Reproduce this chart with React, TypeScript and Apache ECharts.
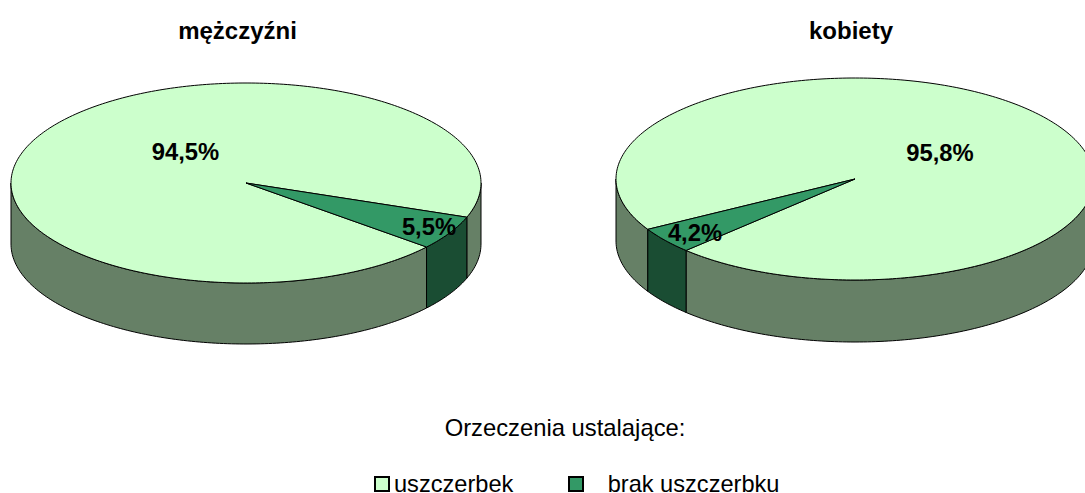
import React, { useEffect, useRef } from "react";
import * as echarts from "echarts";

const categories = ["uszczerbek", "brak uszczerbku"];
const menValues = [94.5, 5.5];
const womenValues = [95.8, 4.2];
const pieTitles = ["mężczyźni", "kobiety"];
const legendTitle = "Orzeczenia ustalające:";

const FONT = '"Liberation Sans", Arial, sans-serif';
const TOP_COLORS = ["#CCFFCC", "#339966"];
const WALL_COLORS = ["#668066", "#1A4D33"];

type Pie = {
  name: string;
  values: number[];
  cx: number;
  cy: number;
  rx: number;
  ry: number;
  depth: number;
  startDeg: number;
  labels: number[][];
};

const pies: Pie[] = [
  { name: pieTitles[0], values: menValues, cx: 246, cy: 183, rx: 235, ry: 100, depth: 61, startDeg: 39.8, labels: [[185.5, 151], [429, 226]] },
  { name: pieTitles[1], values: womenValues, cx: 855, cy: 179, rx: 239, ry: 101, depth: 62, startDeg: 150.1, labels: [[940, 152], [695, 232]] },
];

const arcPoints = (p: Pie, from: number, to: number, dy = 0) => {
  const pts: number[][] = [];
  const n = Math.max(2, Math.ceil(Math.abs(to - from)));
  for (let i = 0; i <= n; i++) {
    const a = ((from + ((to - from) * i) / n) * Math.PI) / 180;
    pts.push([p.cx + p.rx * Math.cos(a), p.cy + p.ry * Math.sin(a) + dy]);
  }
  return pts;
};

const renderSlice = (pie: Pie) => (_params: any, api: any) => {
  const idx = api.value(0) as number;
  const total = pie.values.reduce((a, b) => a + b, 0);
  let from = pie.startDeg;
  for (let i = 0; i < idx; i++) from += (pie.values[i] / total) * 360;
  const to = from + (pie.values[idx] / total) * 360;
  const lineStyle = { stroke: "#000", lineWidth: 1, lineJoin: "round" };
  const children: any[] = [];
  // front-facing parts of the wall
  [[0, 180], [360, 540]].forEach(([lo, hi]) => {
    const a = Math.max(from, lo);
    const b = Math.min(to, hi);
    if (b > a) {
      children.push({
        type: "polygon",
        z2: 1,
        shape: { points: [...arcPoints(pie, a, b), ...arcPoints(pie, b, a, pie.depth)] },
        style: { fill: WALL_COLORS[idx], ...lineStyle },
      });
    }
  });
  children.push({
    type: "polygon",
    z2: 2,
    shape: { points: [[pie.cx, pie.cy], ...arcPoints(pie, from, to)] },
    style: { fill: TOP_COLORS[idx], ...lineStyle },
  });
  children.push({
    type: "text",
    z2: 5,
    style: {
      text: `${String(pie.values[idx]).replace(".", ",")}%`,
      x: pie.labels[idx][0],
      y: pie.labels[idx][1],
      fill: "#000",
      font: `bold 23.8px ${FONT}`,
      textAlign: "center",
      textVerticalAlign: "middle",
    },
  });
  return { type: "group", children };
};

export default function App() {
  const ref = useRef<HTMLDivElement>(null);
  useEffect(() => {
    const chart = echarts.init(ref.current!, undefined, { renderer: "svg" });
    const legendBase = {
      orient: "horizontal" as const,
      icon: "rect",
      itemWidth: 14,
      itemHeight: 14,
      top: 472,
      padding: 0,
      selectedMode: false,
      textStyle: { fontFamily: FONT, fontSize: 23.6, color: "#000", lineHeight: 20 },
    };
    const titleStyle = { fontFamily: FONT, fontSize: 24, fontWeight: "bold", color: "#000" };
    chart.setOption({
      animation: false,
      backgroundColor: "#fff",
      title: [
        { text: pieTitles[0], left: 237.5, top: 18, textAlign: "center", padding: 0, textStyle: titleStyle },
        { text: pieTitles[1], left: 851, top: 18, textAlign: "center", padding: 0, textStyle: titleStyle },
        { text: legendTitle, left: 565, top: 415, textAlign: "center", padding: 0, textStyle: { fontFamily: FONT, fontSize: 23.8, fontWeight: "normal", color: "#000" } },
      ],
      legend: [
        { ...legendBase, left: 374, itemGap: 0, data: [categories[0]], formatter: (n: string) => n },
        { ...legendBase, left: 568, itemGap: 0, data: [categories[1]], formatter: (n: string) => `   ${n}` },
      ],
      series: [
        ...pies.map((pie) => ({
          type: "custom",
          name: pie.name,
          coordinateSystem: "none",
          renderItem: renderSlice(pie),
          data: pie.values.map((v, i) => ({ name: categories[i], value: [i, v] })),
          silent: true,
        })),
        ...categories.map((c, i) => ({
          type: "custom",
          name: c,
          coordinateSystem: "none",
          renderItem: () => null,
          data: [],
          itemStyle: { color: TOP_COLORS[i], borderColor: "#000", borderWidth: 1 },
        })),
      ],
    });
    return () => chart.dispose();
  }, []);
  return <div ref={ref} style={{ position: "absolute", left: 0, top: 0, width: 1085, height: 493 }} />;
}
